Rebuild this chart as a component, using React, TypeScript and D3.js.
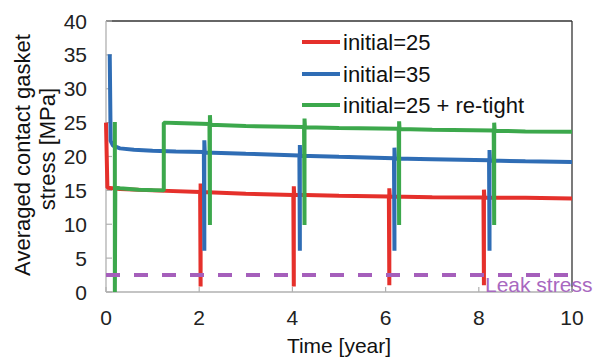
import React from "react";
import * as d3 from "d3";

const xTicks = [0, 2, 4, 6, 8, 10];
const yTicks = [0, 5, 10, 15, 20, 25, 30, 35, 40];

const seriesNames = ["initial=25", "initial=35", "initial=25 + re-tight"];
const seriesColors = ["#e5302b", "#2f6db5", "#3ca84c"];

const redX = [0, 0.03, 0.3, 1, 2.02, 2.03, 2.03, 2.04, 3, 4.02, 4.03, 4.03, 4.04, 5, 6.07, 6.08, 6.08, 6.09, 7, 8.1, 8.11, 8.11, 8.12, 9, 10];
const redY = [25, 15.4, 15.2, 15.0, 14.75, 0.8, 16.0, 14.75, 14.5, 14.3, 0.8, 15.6, 14.35, 14.2, 14.1, 1.0, 15.3, 14.1, 14.0, 13.95, 1.0, 15.1, 13.95, 13.9, 13.8];

const blueX = [0.08, 0.1, 0.15, 0.3, 0.6, 1, 1.5, 2.1, 2.11, 2.11, 2.12, 3, 4.15, 4.16, 4.16, 4.17, 5, 6.18, 6.19, 6.19, 6.2, 7, 8.22, 8.23, 8.23, 8.24, 9, 10];
const blueY = [35.1, 22.3, 21.6, 21.2, 21.0, 20.85, 20.75, 20.65, 6.1, 22.4, 20.6, 20.4, 20.15, 6.1, 21.7, 20.1, 19.95, 19.75, 6.1, 21.3, 19.7, 19.6, 19.45, 6.1, 20.96, 19.4, 19.3, 19.2];

const greenX = [0.19, 0.19, 0.2, 0.3, 0.7, 1.24, 1.24, 1.5, 2.22, 2.23, 2.23, 2.24, 3, 4.25, 4.26, 4.26, 4.27, 5, 6.28, 6.29, 6.29, 6.3, 7, 8.32, 8.33, 8.33, 8.34, 9, 10];
const greenY = [25.1, 0, 15.4, 15.3, 15.1, 15.0, 25.0, 24.95, 24.8, 9.9, 26.1, 24.7, 24.5, 24.35, 9.9, 25.6, 24.3, 24.2, 24.1, 9.9, 25.2, 24.05, 23.95, 23.85, 9.9, 25.0, 23.8, 23.7, 23.65];

const leakStress = 2.5;
const leakLabel = "Leak stress";
const xTitle = "Time [year]";
const yTitle = ["Averaged contact gasket", "stress [MPa]"];

const FONT = "'Liberation Sans', Arial, Helvetica, sans-serif";

export default function App() {
  const W = 596, H = 358;
  const left = 106, right = 572, top = 21, bottom = 292;
  const x = d3.scaleLinear().domain([0, 10]).range([left, right]);
  const y = d3.scaleLinear().domain([0, 40]).range([bottom, top]);
  const line = d3.line<[number, number]>().x(d => x(d[0])).y(d => y(d[1]));
  const series = [
    redX.map((v, i) => [v, redY[i]] as [number, number]),
    blueX.map((v, i) => [v, blueY[i]] as [number, number]),
    greenX.map((v, i) => [v, greenY[i]] as [number, number]),
  ];
  const legendY = [42, 74, 105];
  return (
    <svg width={W} height={H} style={{ position: "absolute", left: 0, top: 0, display: "block", background: "#fff" }} fontFamily={FONT}>
      <line x1={left} x2={right} y1={top} y2={top} stroke="#333" strokeWidth={1.3} />
      <line x1={right} x2={right} y1={top} y2={bottom} stroke="#333" strokeWidth={1.3} />
      <line x1={left} x2={left} y1={top} y2={bottom} stroke="#b0b0b0" strokeWidth={1.3} />
      <line x1={left} x2={right} y1={bottom} y2={bottom} stroke="#b0b0b0" strokeWidth={1.3} />
      {yTicks.map(t => (
        <g key={"y" + t}>
          <line x1={left} x2={left + 6} y1={y(t)} y2={y(t)} stroke="#b0b0b0" strokeWidth={1.2} />
          <text x={87} y={y(t) + 7.5} textAnchor="end" fontSize={21} fill="#222">{t}</text>
        </g>
      ))}
      {xTicks.map(t => (
        <g key={"x" + t}>
          <line x1={x(t)} x2={x(t)} y1={bottom} y2={bottom - 5} stroke="#b0b0b0" strokeWidth={1.2} />
          <text x={x(t)} y={325} textAnchor="middle" fontSize={21} fill="#222">{t}</text>
        </g>
      ))}
      {series.map((s, i) => (
        <path key={i} d={line(s) || ""} fill="none" stroke={seriesColors[i]} strokeWidth={4} strokeLinejoin="bevel" />
      ))}
      <line x1={x(0)} x2={x(10)} y1={y(leakStress)} y2={y(leakStress)} stroke="#a55fbb" strokeWidth={4} strokeDasharray="14,14" />
      <text x={485} y={292} fontSize={21} fill="#a868c0">{leakLabel}</text>
      {seriesNames.map((n, i) => (
        <g key={n}>
          <line x1={302} x2={340} y1={legendY[i]} y2={legendY[i]} stroke={seriesColors[i]} strokeWidth={4} />
          <text x={343} y={legendY[i] + 8} fontSize={22} fill="#111">{n}</text>
        </g>
      ))}
      <text x={339} y={353} textAnchor="middle" fontSize={21} fill="#111">{xTitle}</text>
      <text transform="translate(30,155) rotate(-90)" textAnchor="middle" fontSize={22} fill="#111">{yTitle[0]}</text>
      <text transform="translate(55,149) rotate(-90)" textAnchor="middle" fontSize={22} fill="#111">{yTitle[1]}</text>
    </svg>
  );
}
